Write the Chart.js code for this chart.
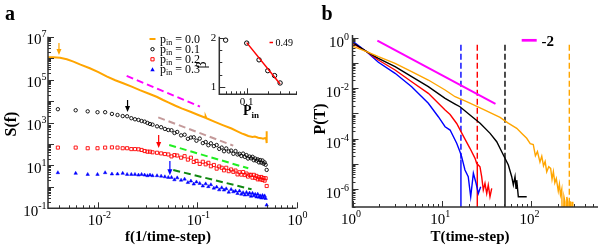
<!DOCTYPE html>
<html>
<head>
<meta charset="utf-8">
<script src="https://cdn.jsdelivr.net/npm/chart.js@4.4.0/dist/chart.umd.min.js"></script>
<style>
body { margin: 0; background: #fff; }
#wrap { position: relative; width: 600px; height: 248px; overflow: hidden; background: #fff; }
canvas { position: absolute; top: 0; }
</style>
</head>
<body>
<div id="wrap">
<canvas id="panelA" width="310" height="248" style="left:0;width:310px;height:248px"></canvas>
<canvas id="inset" width="310" height="248" style="left:0;width:310px;height:248px"></canvas>
<canvas id="panelB" width="300" height="248" style="left:300px;width:300px;height:248px"></canvas>
</div>
<script>
var SERIF = '"Liberation Serif", "Times New Roman", Times, serif';

// ---------- panel a : S(f) ----------
var freq = [0.0039, 0.0059, 0.0078, 0.0098, 0.0117, 0.0137, 0.0156, 0.0176, 0.0195, 0.0215, 0.0234, 0.0254, 0.0273, 0.0293, 0.0313, 0.0332, 0.0352,
    0.0391, 0.043, 0.0469, 0.0508,
    0.0547, 0.0586, 0.0625, 0.0684, 0.0742, 0.0801, 0.0859, 0.0918, 0.0977, 0.1055, 0.1133, 0.1211, 0.1289, 0.1367, 0.1465, 0.1563, 0.166, 0.1758, 0.1855, 0.1953,
    0.207, 0.2188, 0.2305, 0.2422, 0.2539, 0.2656, 0.2773, 0.2891, 0.3008, 0.3125, 0.3242, 0.3359, 0.3477, 0.3594, 0.3711, 0.3828, 0.3945, 0.4063, 0.418, 0.4297,
    0.4414, 0.4531, 0.4648, 0.4766, 0.4883,
    0.5];
// log10 S(f)
var logS01 = [3.62, 3.57, 3.52, 3.48, 3.48, 3.40, 3.35, 3.30, 3.29, 3.20, 3.15, 3.12, 3.07, 3.04, 2.98, 2.93, 2.90,
    2.82, 2.78, 2.70, 2.65,
    2.64, 2.51, 2.56, 2.40, 2.43, 2.24, 2.30, 2.31, 2.15, 2.25, 2.04, 2.09, 1.94, 2.03, 1.90, 1.95, 1.77, 1.83, 1.66, 1.79,
    1.65, 1.69, 1.54, 1.67, 1.51, 1.54, 1.44, 1.55, 1.40, 1.48, 1.32, 1.41, 1.33, 1.40, 1.24, 1.32, 1.22, 1.28, 1.14, 1.25,
    1.13, 1.23, 1.08, 1.14, 1.03,
    0.79];
var logS02 = [1.83, 1.83, 1.80, 1.80, 1.83, 1.84, 1.83, 1.80, 1.80, 1.76, 1.76, 1.75, 1.72, 1.67, 1.64, 1.64, 1.61,
    1.59, 1.56, 1.53, 1.51,
    1.42, 1.48, 1.46, 1.36, 1.43, 1.27, 1.36, 1.16, 1.21, 1.07, 1.17, 1.05, 1.12, 0.96, 1.02, 0.85, 0.95, 0.89, 0.77, 0.89,
    0.73, 0.81, 0.70, 0.76, 0.58, 0.68, 0.57, 0.69, 0.55, 0.62, 0.48, 0.56, 0.56, 0.43, 0.56, 0.42, 0.51, 0.35, 0.45, 0.35,
    0.46, 0.32, 0.41, 0.29, 0.40,
    0.04];
var logS03 = [0.66, 0.63, 0.58, 0.58, 0.66, 0.60, 0.60, 0.63, 0.58, 0.58, 0.58, 0.55, 0.58, 0.55, 0.52, 0.55, 0.52,
    0.52, 0.50, 0.47, 0.44,
    0.44, 0.33, 0.42, 0.31, 0.36, 0.20, 0.27, 0.13, 0.23, 0.16, 0.04, 0.14, 0.01, 0.10, -0.06, -0.01, -0.14, -0.04, -0.15, -0.09,
    -0.25, -0.12, -0.23, -0.19, -0.31, -0.19, -0.34, -0.27, -0.38, -0.26, -0.37, -0.29, -0.44, -0.30, -0.41, -0.35, -0.47, -0.34, -0.48, -0.42,
    -0.52, -0.40, -0.51, -0.42, -0.54,
    -0.85];
var freq00 = [0.0031, 0.0035, 0.0041, 0.0048, 0.0056, 0.0066, 0.0082, 0.010, 0.0121, 0.0148, 0.0178, 0.022, 0.0262, 0.032, 0.0387, 0.045, 0.0507, 0.06,
    0.0692, 0.085, 0.102, 0.12, 0.121, 0.123, 0.15, 0.18, 0.221, 0.25, 0.279, 0.30, 0.326, 0.36, 0.38, 0.411, 0.44, 0.46, 0.481, 0.495, 0.5, 0.5, 0.5];
var logS00 = [6.04, 6.04, 6.02, 5.95, 5.84, 5.70, 5.53, 5.35, 5.15, 4.97, 4.83, 4.66, 4.51, 4.35, 4.20, 4.05, 3.94, 3.78,
    3.66, 3.50, 3.35, 3.22, 3.28, 3.20, 3.03, 2.88, 2.72, 2.60, 2.49, 2.44, 2.37, 2.33, 2.35, 2.29, 2.27, 2.24, 2.27, 2.22, 2.59, 2.04, 2.26];
var pinLabels = ['0.0', '0.1', '0.2', '0.3'];

// guide lines (slopes)
var magF = [0.0193, 0.106], magS = [1.48e5, 5.5e3];
var brnF = [0.0402, 0.230], brnS = [1.74e3, 83];
var limF = [0.0519, 0.326], limS = [89, 7.3];
var dgrF = [0.057, 0.352], dgrS = [6.1, 0.77];

// crossover arrows
var arrowF = [0.0040, 0.0197, 0.0406, 0.0527];
var arrowFrom = [5.1e6, 1.12e4, 263, 16];
var arrowTo = [1.4e6, 3.1e3, 65, 3.5];
var arrowColor = ['#ffa500', '#000000', '#ff0000', '#0000ff'];

// inset : beta vs p_in
var pinVals = [0.05, 0.1, 0.15, 0.2, 0.25, 0.3];
var betaVals = [1.95, 1.89, 1.55, 1.33, 1.23, 1.08];
var fitPin = [0.1, 0.3], fitBeta = [1.90, 1.06];

// ---------- panel b : P(T) ----------
var blueT = [1, 1.44, 1.95, 3.0, 4.6, 7.07, 9.15, 10.9, 12.4, 14.7, 16.0, 16.7, 18.2, 19.8, 21.1, 22.6, 24.2, 25.7, 27.3];
var blueP = [0.73, 0.275, 0.105, 0.0385, 0.0114, 0.00251, 7.4e-4, 2.98e-4, 2.2e-4, 6.6e-5, 3.06e-5, 1.95e-5, 5.8e-6, 3.15e-6, 5.1e-7, 4.3e-6, 1.77e-6, 6.9e-7, 1.27e-6];
var redT = [1, 1.44, 1.95, 3.0, 4.6, 7.07, 10.9, 12.4, 14.7, 17.4, 20.7, 23.6, 24.6, 26.8, 28.0, 29.2, 30.5, 31.9, 33.2, 34.7, 36.3];
var redP = [0.59, 0.275, 0.129, 0.0519, 0.0179, 0.00623, 0.00136, 9e-4, 4e-4, 1.3e-4, 4.18e-5, 1.68e-5, 1.07e-5, 7.8e-6, 3.15e-6, 9.4e-7, 1.73e-6, 6.9e-7, 1.48e-6, 5.1e-7, 1.1e-6];
var blackT = [1, 1.44, 1.95, 3.0, 4.6, 7.07, 10.9, 14.1, 16.0, 20.7, 26.9, 34.8, 41.3, 49.0, 55.7, 60.8, 63.4, 66.2, 67.9, 69.2, 72.1, 89.5];
var blackP = [0.634, 0.275, 0.151, 0.0701, 0.0282, 0.0114, 0.00395, 0.00235, 0.00184, 8.6e-4, 4.06e-4, 1.63e-4, 7.6e-5, 2.27e-5, 9.1e-6, 3.15e-6, 1.48e-6, 3.15e-6, 1.1e-6, 2.3e-6, 5.1e-7, 5.1e-7];
var orangeT = [1, 1.44, 1.95, 3.0, 4.6, 7.07, 10.9, 14.1, 19.0, 29.2, 45.0, 55, 69.2, 80, 89.5, 98, 106, 112, 118, 126,
    132, 138, 144, 150, 158, 166, 172, 178, 185, 192, 202, 208, 214, 221, 228, 234, 240, 246, 252, 258, 264, 270, 276, 282, 288, 294];
var orangeP = [0.46, 0.275, 0.174, 0.0955, 0.0445, 0.0209, 0.0084, 0.00457, 0.0029, 0.00145, 7e-4, 4.2e-4, 2.58e-4, 1.54e-4, 1.04e-4, 6.4e-5, 5.9e-5, 2.1e-5, 3.1e-5, 1.2e-5,
    2.05e-5, 8.5e-6, 1.25e-5, 4.9e-6, 7.8e-6, 6.7e-6, 2.5e-6, 5e-6, 1.8e-6, 2.7e-6, 8.5e-7, 1.6e-6, 6e-7, 1.0e-6, 1e-9, 5e-7, 3.2e-7, 1e-9, 5e-7, 3.2e-7,
    1e-9, 3.2e-7, 3.2e-7, 1e-9, 3.2e-7, 1e-9];
var slopeT = [1.9, 40], slopeP = [0.75, 0.0024];
// characteristic times (dashed above the curve, solid below)
var markT = [16.4, 25.0, 51.1, 268.6];
var markCut = [1.5e-5, 1.06e-5, 1.7e-5, 3.8e-7];
var markColor = ['#0000ff', '#ff0000', '#000000', '#ffa500'];

function pts(xs, ys) {
    return xs.map(function(x, i) { return {x: x, y: ys[i]}; });
}
function pow10(arr) {
    return arr.map(function(v) { return Math.pow(10, v); });
}
function lineSet(xs, ys, color, width, dash) {
    return {data: pts(xs, ys), showLine: true, borderColor: color, borderWidth: width, borderDash: dash || [],
        pointRadius: 0, tension: 0, fill: false};
}

function logTicks(min, max) {
    var out = [];
    for (var e = Math.floor(Math.log10(min)); e <= Math.ceil(Math.log10(max)); e++) {
        for (var m = 1; m < 10; m++) {
            var v = m * Math.pow(10, e);
            if (v >= min * 0.999 && v <= max * 1.001) out.push({v: v, major: m == 1});
        }
    }
    return out;
}

function drawFrame(chart, xt, yt) {
    var c = chart.ctx, a = chart.chartArea, sx = chart.scales.x, sy = chart.scales.y;
    c.save();
    c.strokeStyle = '#303030';
    c.lineWidth = 1.5;
    c.beginPath();
    c.moveTo(a.left, a.top);
    c.lineTo(a.left, a.bottom);
    c.lineTo(a.right, a.bottom);
    c.stroke();
    c.lineWidth = 1;
    c.beginPath();
    xt.forEach(function(t) {
        var px = Math.round(sx.getPixelForValue(t.v)) + 0.5;
        c.moveTo(px, a.bottom);
        c.lineTo(px, a.bottom - (t.major ? 6 : 3));
    });
    yt.forEach(function(t) {
        var py = Math.round(sy.getPixelForValue(t.v)) + 0.5;
        c.moveTo(a.left, py);
        c.lineTo(a.left + (t.major ? 6 : 3), py);
    });
    c.stroke();
    c.restore();
}

// "10" with a raised exponent
function powLabel(c, x, y, exp, align) {
    c.font = '15px ' + SERIF;
    var wb = c.measureText('10').width;
    c.font = '10px ' + SERIF;
    var we = c.measureText(exp).width;
    var x0 = align == 'right' ? x - wb - we : x - (wb + we) / 2;
    c.textAlign = 'left';
    c.textBaseline = 'alphabetic';
    c.font = '15px ' + SERIF;
    c.fillText('10', x0, y);
    c.font = '10px ' + SERIF;
    c.fillText(exp, x0 + wb, y - 7);
}

function marker(c, kind, x, y, color) {
    c.save();
    c.strokeStyle = color;
    c.fillStyle = color;
    c.lineWidth = 1;
    c.beginPath();
    if (kind == 'line') {
        c.lineWidth = 2;
        c.moveTo(x - 3, y);
        c.lineTo(x + 3, y);
        c.stroke();
    } else if (kind == 'circle') {
        c.arc(x, y, 1.7, 0, Math.PI * 2);
        c.stroke();
    } else if (kind == 'rect') {
        c.rect(x - 1.6, y - 1.6, 3.2, 3.2);
        c.stroke();
    } else {
        c.moveTo(x, y - 2.2);
        c.lineTo(x + 2.2, y + 1.8);
        c.lineTo(x - 2.2, y + 1.8);
        c.closePath();
        c.fill();
    }
    c.restore();
}

var decorA = {
    id: 'decorA',
    afterDraw: function(chart) {
        var c = chart.ctx, a = chart.chartArea, sx = chart.scales.x, sy = chart.scales.y;
        drawFrame(chart, logTicks(sx.min, sx.max), logTicks(sy.min, sy.max));
        c.save();
        c.fillStyle = '#000';
        [7, 5, 3, 1, -1].forEach(function(e) {
            powLabel(c, a.left - 1.5, sy.getPixelForValue(Math.pow(10, e)) + 7.5, String(e), 'right');
        });
        [-2, -1, 0].forEach(function(e) {
            powLabel(c, sx.getPixelForValue(Math.pow(10, e)) + 1, a.bottom + 17, String(e), 'center');
        });
        // arrows
        arrowF.forEach(function(f, i) {
            var x = sx.getPixelForValue(f), y0 = sy.getPixelForValue(arrowFrom[i]), y1 = sy.getPixelForValue(arrowTo[i]);
            c.strokeStyle = arrowColor[i];
            c.fillStyle = arrowColor[i];
            c.lineWidth = 1.2;
            c.beginPath();
            c.moveTo(x, y0);
            c.lineTo(x, y1 - 5);
            c.stroke();
            c.beginPath();
            c.moveTo(x - 2.5, y1 - 6);
            c.lineTo(x + 2.5, y1 - 6);
            c.lineTo(x, y1);
            c.closePath();
            c.fill();
        });
        // legend
        var kinds = ['line', 'circle', 'rect', 'tri'];
        var cols = ['#ffa500', '#000000', '#ff0000', '#0000ff'];
        var rows = [39, 49.2, 59.3, 69.4];
        pinLabels.forEach(function(lab, i) {
            marker(c, kinds[i], 152.5, rows[i], cols[i]);
            c.fillStyle = '#000';
            c.textAlign = 'left';
            c.textBaseline = 'alphabetic';
            c.font = '12px ' + SERIF;
            c.fillText('p', 160, rows[i] + 3.5);
            var wp = c.measureText('p').width;
            c.font = '8px ' + SERIF;
            c.fillText('in', 160 + wp, rows[i] + 6);
            var wi = c.measureText('in').width;
            c.font = '12px ' + SERIF;
            c.fillText(' = ' + lab, 160 + wp + wi, rows[i] + 3.5);
        });
        // titles
        c.fillStyle = '#000';
        c.font = 'bold 15px ' + SERIF;
        c.textAlign = 'center';
        c.fillText('f(1/time-step)', 168, 241);
        c.save();
        c.translate(15.5, 124);
        c.rotate(-Math.PI / 2);
        c.font = 'bold 16px ' + SERIF;
        c.fillText('S(f)', 0, 0);
        c.restore();
        c.textAlign = 'left';
        c.font = 'bold 20px ' + SERIF;
        c.fillText('a', 5, 20);
        c.restore();
    }
};

var decorInset = {
    id: 'decorInset',
    afterDraw: function(chart) {
        var c = chart.ctx, a = chart.chartArea, sx = chart.scales.x, sy = chart.scales.y;
        var yt = [1, 1.25, 1.5, 1.75, 2].map(function(v) { return {v: v, major: v == 1 || v == 2}; });
        drawFrame(chart, logTicks(sx.min, sx.max), yt);
        c.save();
        c.fillStyle = '#000';
        c.font = '11px ' + SERIF;
        c.textAlign = 'right';
        c.textBaseline = 'alphabetic';
        c.fillText('2', a.left - 3, sy.getPixelForValue(2) + 3.5);
        c.fillText('1', a.left - 3, sy.getPixelForValue(1) + 3.5);
        c.textAlign = 'center';
        c.fillText('0.1', sx.getPixelForValue(0.1), a.bottom + 11);
        c.save();
        c.translate(206, 65);
        c.rotate(-Math.PI / 2);
        c.textAlign = 'center';
        c.font = '14px ' + SERIF;
        c.fillText('\u03b2', 0, 0);
        c.restore();
        c.textAlign = 'left';
        c.font = 'bold 14px ' + SERIF;
        c.fillText('P', 243, 115);
        var wP = c.measureText('P').width;
        c.font = 'bold 9px ' + SERIF;
        c.fillText('in', 243 + wP, 118);
        c.strokeStyle = '#ff0000';
        c.lineWidth = 1.5;
        c.beginPath();
        c.moveTo(269.5, 42.5);
        c.lineTo(273, 42.5);
        c.stroke();
        c.font = '10px ' + SERIF;
        c.fillText('0.49', 275.5, 45.5);
        c.restore();
    }
};

var decorB = {
    id: 'decorB',
    afterDraw: function(chart) {
        var c = chart.ctx, a = chart.chartArea, sx = chart.scales.x, sy = chart.scales.y;
        drawFrame(chart, logTicks(sx.min, sx.max), logTicks(sy.min, sy.max));
        c.save();
        c.fillStyle = '#000';
        [0, -2, -4, -6].forEach(function(e) {
            powLabel(c, a.left - 3.5, sy.getPixelForValue(Math.pow(10, e)) + 9, String(e), 'right');
        });
        [0, 1, 2].forEach(function(e) {
            powLabel(c, sx.getPixelForValue(Math.pow(10, e)) - 1.5, a.bottom + 17, String(e), 'center');
        });
        // legend
        c.strokeStyle = '#ff00ff';
        c.lineWidth = 2.7;
        c.beginPath();
        c.moveTo(221.7, 40.3);
        c.lineTo(236.7, 40.3);
        c.stroke();
        c.font = 'bold 15px ' + SERIF;
        c.textAlign = 'left';
        c.fillText('-2', 241.5, 45.5);
        c.textAlign = 'center';
        c.fillText('T(time-step)', 170, 241);
        c.save();
        c.translate(24.5, 119);
        c.rotate(-Math.PI / 2);
        c.font = 'bold 16px ' + SERIF;
        c.fillText('P(T)', 0, 0);
        c.restore();
        c.textAlign = 'left';
        c.font = 'bold 20px ' + SERIF;
        c.fillText('b', 21.5, 20);
        c.restore();
    }
};

Chart.defaults.font.family = SERIF;

var baseOpts = function(pad, xs, ys) {
    return {
        responsive: false,
        animation: false,
        devicePixelRatio: 1,
        layout: {padding: pad},
        plugins: {legend: {display: false}, tooltip: {enabled: false}},
        events: [],
        scales: {x: xs, y: ys}
    };
};

new Chart(document.getElementById('panelA'), {
    type: 'scatter',
    data: {
        datasets: [
            lineSet(magF, magS, '#ff00ff', 2, [7, 4]),
            lineSet(brnF, brnS, '#c49a9a', 2, [7, 4]),
            lineSet(limF, limS, '#22ee22', 2, [7, 4]),
            lineSet(dgrF, dgrS, '#118811', 2, [7, 4]),
            lineSet(freq00, pow10(logS00), '#ffa500', 2),
            {data: pts(freq, pow10(logS01)), pointStyle: 'circle', pointRadius: 1.7, pointBorderWidth: 0.9,
                borderColor: '#000000', backgroundColor: 'rgba(0,0,0,0)'},
            {data: pts(freq, pow10(logS02)), pointStyle: 'rect', pointRadius: 2.2, pointBorderWidth: 0.9,
                borderColor: '#ff0000', backgroundColor: 'rgba(0,0,0,0)'},
            {data: pts(freq, pow10(logS03)), pointStyle: 'triangle', pointRadius: 2.0, pointBorderWidth: 0.5,
                borderColor: '#0000ff', backgroundColor: '#0000ff'}
        ]
    },
    options: baseOpts({left: 48, top: 36.7, right: 13.5, bottom: 39.7},
        {type: 'logarithmic', display: false, min: 0.0031, max: 1},
        {type: 'logarithmic', display: false, min: 0.1, max: 1e7}),
    plugins: [decorA]
});

new Chart(document.getElementById('inset'), {
    type: 'scatter',
    data: {
        datasets: [
            lineSet(fitPin, fitBeta, '#ff0000', 1.5),
            {data: pts(pinVals, betaVals), pointStyle: 'circle', pointRadius: 2.2, pointBorderWidth: 1,
                borderColor: '#000000', backgroundColor: 'rgba(0,0,0,0)'}
        ]
    },
    options: baseOpts({left: 219.3, top: 36.7, right: 13, bottom: 153.7},
        {type: 'logarithmic', display: false, min: 0.0406, max: 0.523},
        {type: 'linear', display: false, min: 0.85, max: 2.02}),
    plugins: [decorInset]
});

var setsB = [
    lineSet(slopeT, slopeP, '#ff00ff', 2),
    lineSet(orangeT, orangeP, '#ffa500', 1.4),
    lineSet(blackT, blackP, '#000000', 1.4),
    lineSet(redT, redP, '#ff0000', 1.4),
    lineSet(blueT, blueP, '#0000ff', 1.4)
];
markT.forEach(function(t, i) {
    setsB.push(lineSet([t, t], [0.52, markCut[i]], markColor[i], 1.4, [6, 3]));
    setsB.push(lineSet([t, t], [markCut[i], 1e-9], markColor[i], 1.4));
});

new Chart(document.getElementById('panelB'), {
    type: 'scatter',
    data: {datasets: setsB},
    options: baseOpts({left: 52.5, top: 35, right: 2, bottom: 41},
        {type: 'logarithmic', display: false, min: 1, max: 563},
        {type: 'logarithmic', display: false, min: 2e-7, max: 1.256}),
    plugins: [decorB]
});
</script>
</body>
</html>
